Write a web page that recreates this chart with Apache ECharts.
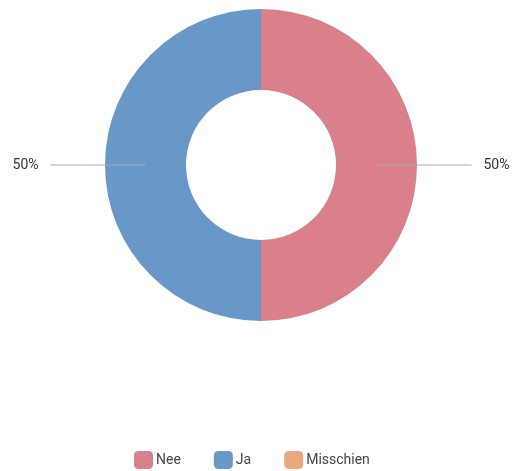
<!DOCTYPE html>
<html>
<head>
<meta charset="utf-8">
<script src="https://cdn.jsdelivr.net/npm/echarts@6/dist/echarts.min.js"></script>
<style>html,body{margin:0;padding:0;background:#fff}#c{width:516px;height:471px}</style>
</head>
<body>
<div id="c"></div>
<script>
const categories = ['Nee', 'Ja', 'Misschien'];
const values = [1, 1, 0];
const colors = ['#d9808a', '#6898c8', '#eba880'];

const data = categories.map((n, i) => ({ name: n, value: values[i], itemStyle: { color: colors[i] } }));
const chart = echarts.init(document.getElementById('c'));
chart.setOption({
  animation: false,
  legend: {
    top: 446,
    left: 129,
    itemWidth: 19,
    itemHeight: 18,
    itemGap: 33,
    icon: 'roundRect',
    textStyle: { fontFamily: 'Roboto', fontSize: 14, color: '#444', padding: [0, 0, 0, -2] },
    data: categories.map((n, i) => ({ name: n, itemStyle: { color: colors[i] } }))
  },
  series: [
    {
      type: 'pie',
      z: 2,
      center: [261, 165],
      radius: [75, 156],
      startAngle: 90,
      clockwise: true,
      label: { show: false },
      labelLine: { show: false },
      emphasis: { disabled: true },
      data: data
    },
    {
      type: 'pie',
      z: 5,
      center: [261, 165],
      radius: [0, 115.5],
      startAngle: 90,
      clockwise: true,
      silent: true,
      minShowLabelAngle: 1,
      itemStyle: { color: 'rgba(0,0,0,0)' },
      label: {
        show: true,
        position: 'outside',
        formatter: '{d}%',
        fontFamily: 'Roboto',
        fontSize: 14,
        color: '#333',
        overflow: 'none',
        distanceToLabelLine: 12
      },
      labelLine: { show: true, length: 60, length2: 35, lineStyle: { color: '#aaaaaa', width: 1 } },
      emphasis: { disabled: true },
      data: categories.map((n, i) => ({ name: n, value: values[i] }))
    }
  ]
});
</script>
</body>
</html>
